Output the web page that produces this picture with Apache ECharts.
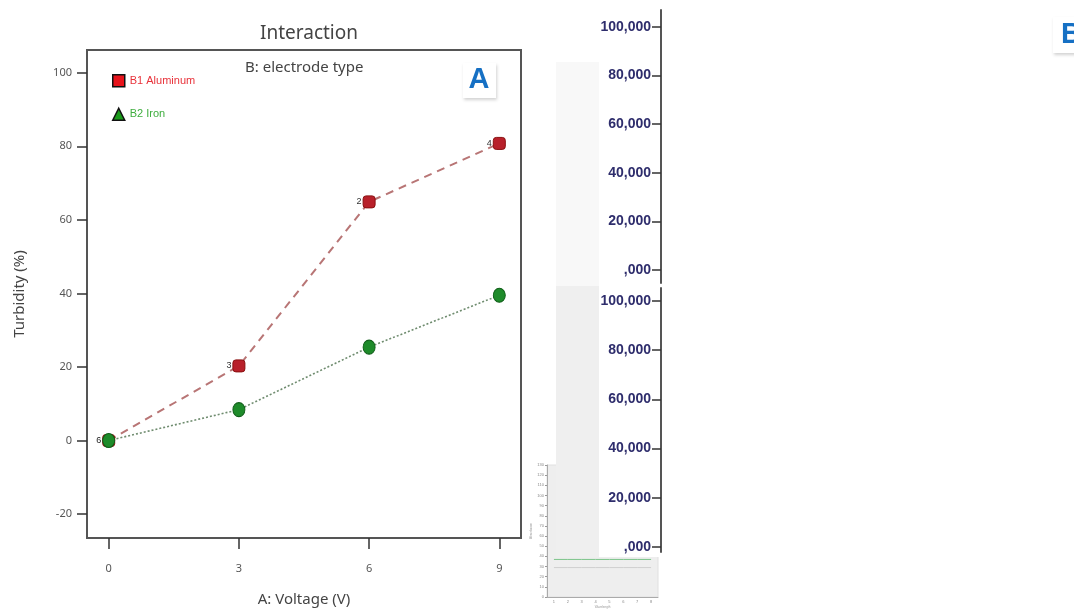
<!DOCTYPE html>
<html>
<head>
<meta charset="utf-8">
<script src="https://cdn.jsdelivr.net/npm/echarts@6/dist/echarts.min.js"></script>
<style>
  html, body { margin: 0; padding: 0; background: #ffffff; }
  #chart { width: 1074px; height: 612px; }
</style>
</head>
<body>
<div id="chart"></div>
<script>
// Interaction plot: turbidity against voltage for two electrode types
const voltage = [0, 3, 6, 9];
const aluminum = [0, 20.3, 64.9, 80.8];
const iron = [0, 8.4, 25.4, 39.5];
const aluminumCounts = ['', '3', '2', '4'];
const ironCounts = ['6', '', '', ''];
const voltageTicks = [0, 3, 6, 9];
const turbidityTicks = [-20, 0, 20, 40, 60, 80, 100];

// Side scale axes (two stacked panels)
const scaleTicks = [0, 20000, 40000, 60000, 80000, 100000];

// Small inset panel
const insetCategories = ['1', '2', '3', '4', '5', '6', '7', '8'];
const insetUpper = [37, 37, 37, 37, 37, 37, 37, 37];
const insetLower = [29, 29, 29, 29, 29, 29, 29, 29];

const pairs = (xs, ys) => xs.map((x, i) => [x, ys[i]]);
const scaleLabel = v => v === 0 ? ',000' : v.toLocaleString('en-US');

const FONT = 'Noto Sans';
const scaleLabelStyle = {
  color: '#2e2d6c', fontSize: 14, fontWeight: 'bold',
  fontFamily: 'Liberation Sans', margin: 10, formatter: scaleLabel,
  customValues: scaleTicks
};

const chart = echarts.init(document.getElementById('chart'), null, { renderer: 'canvas' });

chart.setOption({
  animation: false,
  backgroundColor: '#ffffff',
  title: {
    text: 'Interaction', left: 304, top: 19, textAlign: 'center',
    textStyle: { fontSize: 19, fontWeight: 'normal', color: '#444', fontFamily: FONT }
  },
  legend: {
    orient: 'vertical', left: 107, top: 69, itemGap: 20,
    itemWidth: 12, itemHeight: 12,
    textStyle: { fontSize: 11, fontFamily: 'Liberation Sans Narrow, Liberation Sans' },
    data: [
      { name: 'B1 Aluminum', icon: 'rect',
        itemStyle: { color: '#e8141c', borderColor: '#111', borderWidth: 1.5 },
        textStyle: { color: '#e8323a' } },
      { name: 'B2 Iron', icon: 'triangle',
        itemStyle: { color: '#1a9a1a', borderColor: '#111', borderWidth: 1.5 },
        textStyle: { color: '#3fae3f' } }
    ]
  },
  grid: [
    { left: 87, top: 50, width: 434, height: 491, show: true,
      borderColor: '#555', borderWidth: 2, backgroundColor: 'transparent' },
    { left: 661, top: 10, width: 300, height: 273 },
    { left: 661, top: 288, width: 300, height: 264 },
    { left: 547, top: 465, width: 111, height: 132, show: true,
      backgroundColor: '#eeeeee', borderColor: '#e0e0e0', borderWidth: 1 }
  ],
  xAxis: [
    { type: 'value', gridIndex: 0, min: -0.5, max: 9.5, position: 'bottom',
      axisLine: { show: false, onZero: false },
      axisTick: { show: true, length: 11, customValues: voltageTicks,
        lineStyle: { color: '#333', width: 1.5 } },
      axisLabel: { customValues: voltageTicks, color: '#555', fontSize: 11,
        fontFamily: FONT, margin: 25 },
      splitLine: { show: false },
      name: 'A: Voltage (V)', nameLocation: 'middle', nameGap: 54,
      nameTextStyle: { fontSize: 15, color: '#444', fontFamily: FONT } },
    { type: 'value', gridIndex: 1, show: false },
    { type: 'value', gridIndex: 2, show: false },
    { type: 'category', gridIndex: 3, data: insetCategories, z: 1,
      axisLine: { onZero: false, lineStyle: { color: '#aaa', width: 1 } },
      axisTick: { lineStyle: { color: '#999' }, length: 2 },
      axisLabel: { fontSize: 4, color: '#888', margin: 3 },
      name: 'Wavelength', nameLocation: 'middle', nameGap: 9,
      nameTextStyle: { fontSize: 3, color: '#999' } }
  ],
  yAxis: [
    { type: 'value', gridIndex: 0, min: -26.5, max: 106.2, position: 'left',
      axisLine: { show: false, onZero: false },
      axisTick: { show: true, length: 10, customValues: turbidityTicks,
        lineStyle: { color: '#333', width: 1.5 } },
      axisLabel: { customValues: turbidityTicks, color: '#555', fontSize: 11,
        fontFamily: FONT, margin: 15 },
      splitLine: { show: false },
      name: 'Turbidity (%)', nameLocation: 'middle', nameGap: 60,
      nameTextStyle: { fontSize: 15, color: '#444', fontFamily: FONT } },
    { type: 'value', gridIndex: 1, min: -5350, max: 107000,
      axisLine: { show: true, onZero: false, lineStyle: { color: '#555', width: 2 } },
      axisTick: { show: true, length: 9, customValues: scaleTicks,
        lineStyle: { color: '#333', width: 1.5 } },
      axisLabel: scaleLabelStyle,
      splitLine: { show: false } },
    { type: 'value', gridIndex: 2, min: -2030, max: 105300, z: 6,
      axisLine: { show: true, onZero: false, lineStyle: { color: '#555', width: 2 } },
      axisTick: { show: true, length: 9, customValues: scaleTicks,
        lineStyle: { color: '#333', width: 1.5 } },
      axisLabel: scaleLabelStyle,
      splitLine: { show: false } },
    { type: 'value', gridIndex: 3, min: 0, max: 130, interval: 10, z: 1,
      axisLine: { show: true, onZero: false, lineStyle: { color: '#aaa', width: 1 } },
      axisTick: { show: true, length: 2, lineStyle: { color: '#999' } },
      axisLabel: { fontSize: 4, color: '#888', margin: 3 },
      splitLine: { show: false },
      name: 'Absorbance', nameLocation: 'middle', nameGap: 14,
      nameTextStyle: { fontSize: 3, color: '#999' } }
  ],
  series: [
    { name: 'B1 Aluminum', type: 'line', xAxisIndex: 0, yAxisIndex: 0,
      data: pairs(voltage, aluminum),
      symbol: 'roundRect', symbolSize: [12, 12],
      itemStyle: { color: '#b8202a', borderColor: '#8a1010', borderWidth: 1 },
      lineStyle: { color: '#b87575', width: 2, type: [8, 6] },
      label: { show: true, position: 'left', distance: 1, fontSize: 9, color: '#333',
        formatter: p => aluminumCounts[p.dataIndex] } },
    { name: 'B2 Iron', type: 'line', xAxisIndex: 0, yAxisIndex: 0,
      data: pairs(voltage, iron),
      symbol: 'circle', symbolSize: [12, 14],
      itemStyle: { color: '#1e8b2a', borderColor: '#0f5e18', borderWidth: 1 },
      lineStyle: { color: '#6f8c6f', width: 1.6, type: [2, 2] },
      label: { show: true, position: 'left', distance: 1, fontSize: 9, color: '#222',
        formatter: p => ironCounts[p.dataIndex] } },
    { type: 'line', xAxisIndex: 3, yAxisIndex: 3, data: insetUpper, z: 1,
      symbol: 'none', lineStyle: { color: '#7cc48a', width: 1 } },
    { type: 'line', xAxisIndex: 3, yAxisIndex: 3, data: insetLower, z: 1,
      symbol: 'none', lineStyle: { color: '#cfcfcf', width: 1 } }
  ],
  graphic: [
    // light strip between the two panels
    { type: 'rect', z: 3, shape: { x: 556, y: 62, width: 43, height: 224 },
      style: { fill: '#f8f8f8' } },
    { type: 'rect', z: 3, shape: { x: 556, y: 286, width: 43, height: 271 },
      style: { fill: '#efefef' } },
    // white backing behind the lower scale labels
    { type: 'rect', z: 4, shape: { x: 599, y: 286, width: 60, height: 271 },
      style: { fill: '#ffffff' } },
    { type: 'text', z: 5, left: 245, top: 60,
      style: { text: 'B: electrode type', fontSize: 15, fill: '#444', fontFamily: FONT } },
    // panel letters
    { type: 'rect', z: 5, shape: { x: 463, y: 63, width: 33, height: 35 },
      style: { fill: '#ffffff', shadowBlur: 3, shadowColor: 'rgba(0,0,0,0.18)',
        shadowOffsetX: 1, shadowOffsetY: 2 } },
    { type: 'text', z: 6, x: 479, y: 80,
      style: { text: 'A', fontSize: 29, fontWeight: 'bold', fill: '#1670c4',
        fontFamily: 'Liberation Sans', align: 'center', verticalAlign: 'middle' } },
    { type: 'rect', z: 5, shape: { x: 1053, y: 17, width: 40, height: 36 },
      style: { fill: '#ffffff', shadowBlur: 3, shadowColor: 'rgba(0,0,0,0.18)',
        shadowOffsetX: 1, shadowOffsetY: 2 } },
    { type: 'text', z: 6, x: 1061, y: 35,
      style: { text: 'B', fontSize: 29, fontWeight: 'bold', fill: '#1670c4',
        fontFamily: 'Liberation Sans', align: 'left', verticalAlign: 'middle' } }
  ]
});
</script>
</body>
</html>
